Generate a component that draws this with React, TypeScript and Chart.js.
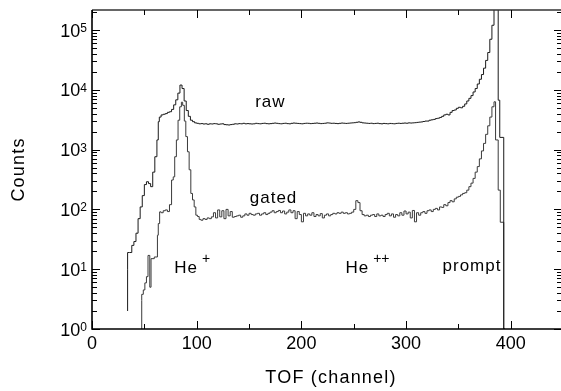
import React, { useEffect, useRef } from "react";
import { Chart, registerables } from "chart.js";

Chart.register(...registerables);

// ---------- data (bin left edges in channels, counts per bin) ----------
const rawChannels = [
  34, 34, 36, 38, 40, 42, 44, 46, 48, 50, 52, 54, 56, 58, 60, 62, 63.3, 64.3, 66, 68,
  70, 72, 74, 76, 78, 80, 82, 84, 86, 88, 90, 92, 94, 96, 98,
  100, 102, 104, 106, 108, 110, 112, 114, 116, 118,
  120, 122, 124, 126, 128, 130, 132, 134, 136, 138,
  140, 142, 144, 146, 148, 150, 152, 154, 156, 158,
  160, 162, 164, 166, 168, 170, 172, 174, 176, 178,
  180, 182, 184, 186, 188, 190, 192, 194, 196, 198,
  200, 202, 204, 206, 208, 210, 212, 214, 216, 218,
  220, 222, 224, 226, 228, 230, 232, 234, 236, 238,
  240, 242, 244, 246, 248, 250, 252, 254, 256, 258,
  260, 262, 264, 266, 268, 270, 272, 274, 276, 278,
  280, 282, 284, 286, 288, 290, 292, 294, 296, 298,
  300, 302, 304, 306, 308, 310, 312, 314,
  316, 318, 320, 322, 324, 326, 328, 330, 332, 334,
  336, 338, 340, 342, 344, 346, 348, 350, 352, 354,
  356, 358, 360, 362, 364, 366, 368, 370, 372, 374,
  376, 378, 380, 382, 384, 386, 388,
  389.5, 393.3, 394.3,
];
const rawCounts = [
  2, 10, 19, 19, 25, 29, 40, 70, 110, 170, 260, 290, 270, 240, 420, 760, 1450, 2930, 3500, 3800,
  3900, 4000, 4200, 4300, 4700, 5600, 6800, 8800, 12000, 10500, 6500, 4500, 3600, 3100, 2930,
  2800, 2750, 2700, 2720, 2680, 2700, 2650, 2700, 2680, 2720,
  2700, 2650, 2680, 2700, 2620, 2600, 2580, 2620, 2650, 2700,
  2680, 2720, 2700, 2750, 2700, 2720, 2700, 2680, 2700, 2750,
  2720, 2700, 2740, 2760, 2720, 2700, 2720, 2750, 2780, 2750,
  2720, 2700, 2740, 2760, 2720, 2700, 2750, 2780, 2760, 2740,
  2720, 2700, 2740, 2760, 2750, 2720, 2740, 2760, 2780, 2750,
  2720, 2740, 2760, 2800, 2780, 2750, 2760, 2740, 2720, 2750,
  2780, 2760, 2740, 2760, 2780, 2800, 2820, 2860, 2900, 2860,
  2800, 2780, 2760, 2740, 2760, 2720, 2740, 2760, 2720, 2700,
  2740, 2720, 2700, 2740, 2720, 2700, 2740, 2760, 2740, 2760,
  2780, 2760, 2800, 2780, 2800, 2820, 2850, 2880,
  2900, 2950, 3000, 3000, 3100, 3150, 3200, 3300, 3350, 3450,
  3600, 3800, 3900, 3800, 4200, 4500, 4600, 4900, 5100, 5000,
  5300, 5800, 6500, 7200, 8000, 9200, 10500, 12500, 15000, 18000,
  23000, 31000, 42000, 70000, 120000, 250000, 250000,
  6700, 1600, 1,
];

const gatedChannels = [
  47.5, 47.5, 49, 50.5, 52, 53.5, 55.2, 56.4, 59.5, 62.5, 63.3, 64.6, 66, 68, 70, 72, 74, 76,
  77.6, 79, 80.6, 82.2, 83.8, 85.4, 86.6, 88.2, 89.6, 91.2, 92.8, 94.4, 96, 97.6, 99.2, 100.8, 102.4,
  104, 106, 108, 110, 112, 114, 116, 118, 120, 122,
  124, 126, 128, 130, 132, 134, 136, 138, 140, 142,
  144, 146, 148, 150, 152, 154, 156, 158, 160, 162,
  164, 166, 168, 170, 172, 174, 176, 178, 180, 182,
  184, 186, 188, 190, 192, 194, 196, 198, 200, 202,
  204, 206, 208, 210, 212, 214, 216, 218, 220, 222,
  224, 226, 228, 230, 232, 234, 236, 238, 240, 242,
  244, 246, 248, 250, 252, 254, 256, 258, 260, 262,
  264, 266, 268, 270, 272, 274, 276, 278, 280, 282,
  284, 286, 288, 290, 292, 294, 296, 298, 300, 302,
  304, 306, 308, 310, 312, 314,
  316, 318, 320, 322, 324, 326, 328, 330, 332, 334,
  336, 338, 340, 342, 344, 346, 348, 350, 352, 354,
  356, 358, 360, 362, 364, 366, 368, 370, 372, 374,
  376, 378, 380, 382, 384,
  385.5, 388, 390, 393.3, 394.3,
];
const gatedCounts = [
  1, 3, 3.8, 4.5, 5.9, 7.5, 17, 5, 15, 16, 37, 58, 91, 88, 95, 98, 92, 120,
  310, 350, 760, 1450, 3100, 5200, 6200, 5500, 3000, 1650, 920, 460, 185, 144, 110, 80, 76,
  68, 66, 70, 68, 72, 70, 75, 88, 72, 98,
  75, 95, 70, 100, 78, 92, 74, 76, 78, 80,
  74, 78, 84, 80, 86, 82, 80, 84, 86, 80,
  84, 88, 82, 86, 90, 95, 88, 92, 96, 88,
  94, 84, 90, 98, 88, 95, 70, 92, 82, 62,
  86, 78, 84, 80, 88, 76, 82, 78, 85, 72,
  80, 84, 78, 82, 86, 84, 88, 86, 90, 86,
  88, 84, 86, 90, 100, 140, 130, 95, 82, 78,
  80, 76, 80, 82, 76, 84, 78, 80, 76, 82,
  86, 78, 84, 74, 82, 78, 88, 80, 94, 84,
  90, 72, 96, 62, 88, 80,
  88, 92, 86, 95, 98, 92, 100, 104, 98, 110,
  108, 120, 115, 130, 140, 134, 150, 160, 165, 175,
  185, 190, 210, 240, 275, 330, 420, 520, 700, 950,
  1270, 1800, 2500, 3500, 5200,
  6300, 1450, 210, 61, 1,
];

// ---------- axes / labels ----------
const xMin = 0;
const xMax = 448;
const yMin = 1;
const yMax = 2.16e5;
const xTickValues = [0, 100, 200, 300, 400];
const xTickLabels = ["0", "100", "200", "300", "400"];
const xMinorTickValues = [50, 150, 250, 350, 450];
const yTickValues = [1, 10, 100, 1000, 10000, 100000];
const yTickBase = "10";
const yTickExponents = ["0", "1", "2", "3", "4", "5"];
const xTitle = "TOF (channel)";
const yTitle = "Counts";

const annotationTexts = ["raw", "gated", "He", "He", "prompt"];
const annotationSups = ["", "", "+", "++", ""];
const annotationX = [170.4, 173.4, 78.6, 242.1, 391.1];
const annotationY = [5100, 130, 8.8, 8.8, 9.3];
const annotationAlign = ["center", "center", "left", "left", "right"];

const FONT = '"Liberation Sans", Arial, Helvetica, sans-serif';

const toPoints = (xs: number[], ys: number[]) => xs.map((x, i) => ({ x, y: ys[i] }));

const axesPlugin = {
  id: "customAxes",
  afterDraw(chart: any) {
    const ctx: CanvasRenderingContext2D = chart.ctx;
    const xs = chart.scales.x;
    const ys = chart.scales.y;
    const { left, right, top, bottom } = chart.chartArea;
    const W = chart.width;
    ctx.save();

    // frame
    ctx.strokeStyle = "#000";
    ctx.lineWidth = 1.6;
    ctx.beginPath();
    ctx.moveTo(left, top);
    ctx.lineTo(left, bottom);
    ctx.lineTo(W, bottom);
    ctx.stroke();
    ctx.strokeStyle = "#333";
    ctx.lineWidth = 1.3;
    ctx.beginPath();
    ctx.moveTo(left, top);
    ctx.lineTo(W, top);
    ctx.stroke();

    // x ticks
    ctx.strokeStyle = "#000";
    ctx.lineWidth = 1;
    const drawXTick = (v: number, len: number) => {
      const px = Math.round(xs.getPixelForValue(v)) + 0.5;
      if (px > W) return;
      ctx.beginPath();
      ctx.moveTo(px, bottom);
      ctx.lineTo(px, bottom - len);
      ctx.moveTo(px, top);
      ctx.lineTo(px, top + len);
      ctx.stroke();
    };
    xTickValues.forEach((v) => drawXTick(v, 8));
    xMinorTickValues.forEach((v) => drawXTick(v, 5));

    // y ticks (left and right)
    const drawYTick = (v: number, lenL: number, lenR: number) => {
      const py = Math.round(ys.getPixelForValue(v)) + 0.5;
      if (py < top - 0.5 || py > bottom + 0.5) return;
      ctx.beginPath();
      ctx.moveTo(left, py);
      ctx.lineTo(left + lenL, py);
      ctx.moveTo(right, py);
      ctx.lineTo(right - lenR, py);
      ctx.stroke();
    };
    yTickValues.forEach((dec) => {
      drawYTick(dec, 8, 7);
      for (let m = 2; m <= 9; m++) drawYTick(dec * m, 5, 4);
    });

    // x tick labels
    ctx.fillStyle = "#000";
    ctx.font = `18px ${FONT}`;
    ctx.textAlign = "center";
    ctx.textBaseline = "alphabetic";
    xTickValues.forEach((v, i) => {
      ctx.fillText(xTickLabels[i], xs.getPixelForValue(v), bottom + 19.5);
    });

    // y tick labels 10^n
    yTickValues.forEach((v, i) => {
      const py = ys.getPixelForValue(v);
      const rightEdge = left - 5;
      ctx.font = `12px ${FONT}`;
      ctx.textAlign = "right";
      const ew = ctx.measureText(yTickExponents[i]).width;
      ctx.fillText(yTickExponents[i], rightEdge, py + 2);
      ctx.font = `18px ${FONT}`;
      ctx.fillText(yTickBase, rightEdge - ew, py + 6.5);
    });

    // axis titles
    ctx.font = `18px ${FONT}`;
    (ctx as any).letterSpacing = "1.2px";
    ctx.textAlign = "center";
    ctx.textBaseline = "middle";
    ctx.fillText(xTitle, 331, 378);
    ctx.save();
    ctx.translate(19, (top + bottom) / 2);
    ctx.rotate(-Math.PI / 2);
    ctx.fillText(yTitle, 0, 0);
    ctx.restore();

    // annotations
    ctx.textBaseline = "alphabetic";
    annotationTexts.forEach((t, i) => {
      const px = xs.getPixelForValue(annotationX[i]);
      const py = ys.getPixelForValue(annotationY[i]);
      ctx.font = `17px ${FONT}`;
      (ctx as any).letterSpacing = "1px";
      const w = ctx.measureText(t).width;
      const sup = annotationSups[i];
      ctx.textAlign = "left";
      let x0 = px;
      if (annotationAlign[i] === "center") x0 = px - w / 2;
      if (annotationAlign[i] === "right") x0 = px - w;
      ctx.fillText(t, x0, py);
      if (sup) {
        ctx.font = `14px ${FONT}`;
        (ctx as any).letterSpacing = "0px";
        ctx.fillText(sup, x0 + w + 4, py - 10);
      }
    });
    (ctx as any).letterSpacing = "0px";
    ctx.restore();
  },
};

export default function App() {
  const canvasRef = useRef<HTMLCanvasElement | null>(null);

  useEffect(() => {
    const canvas = canvasRef.current;
    if (!canvas) return;
    const chart = new Chart(canvas, {
      type: "line",
      data: {
        datasets: [
          {
            label: "raw",
            data: toPoints(rawChannels, rawCounts),
            borderColor: "#1a1a1a",
            borderWidth: 1,
            pointRadius: 0,
            stepped: "after",
            fill: false,
          },
          {
            label: "gated",
            data: toPoints(gatedChannels, gatedCounts),
            borderColor: "#3a3a3a",
            borderWidth: 1,
            pointRadius: 0,
            stepped: "after",
            fill: false,
          },
        ],
      },
      options: {
        animation: false,
        responsive: false,
        devicePixelRatio: 1,
        events: [],
        layout: { padding: { left: 92, right: 0, top: 10, bottom: 62 } },
        plugins: { legend: { display: false }, tooltip: { enabled: false } },
        scales: {
          x: { type: "linear", min: xMin, max: xMax, display: false },
          y: { type: "logarithmic", min: yMin, max: yMax, display: false },
        },
      },
      plugins: [axesPlugin],
    });
    return () => chart.destroy();
  }, []);

  return (
    <div style={{ position: "fixed", left: 0, top: 0, width: 561, height: 391, background: "#fff" }}>
      <canvas ref={canvasRef} width={561} height={391} style={{ display: "block" }} />
    </div>
  );
}
